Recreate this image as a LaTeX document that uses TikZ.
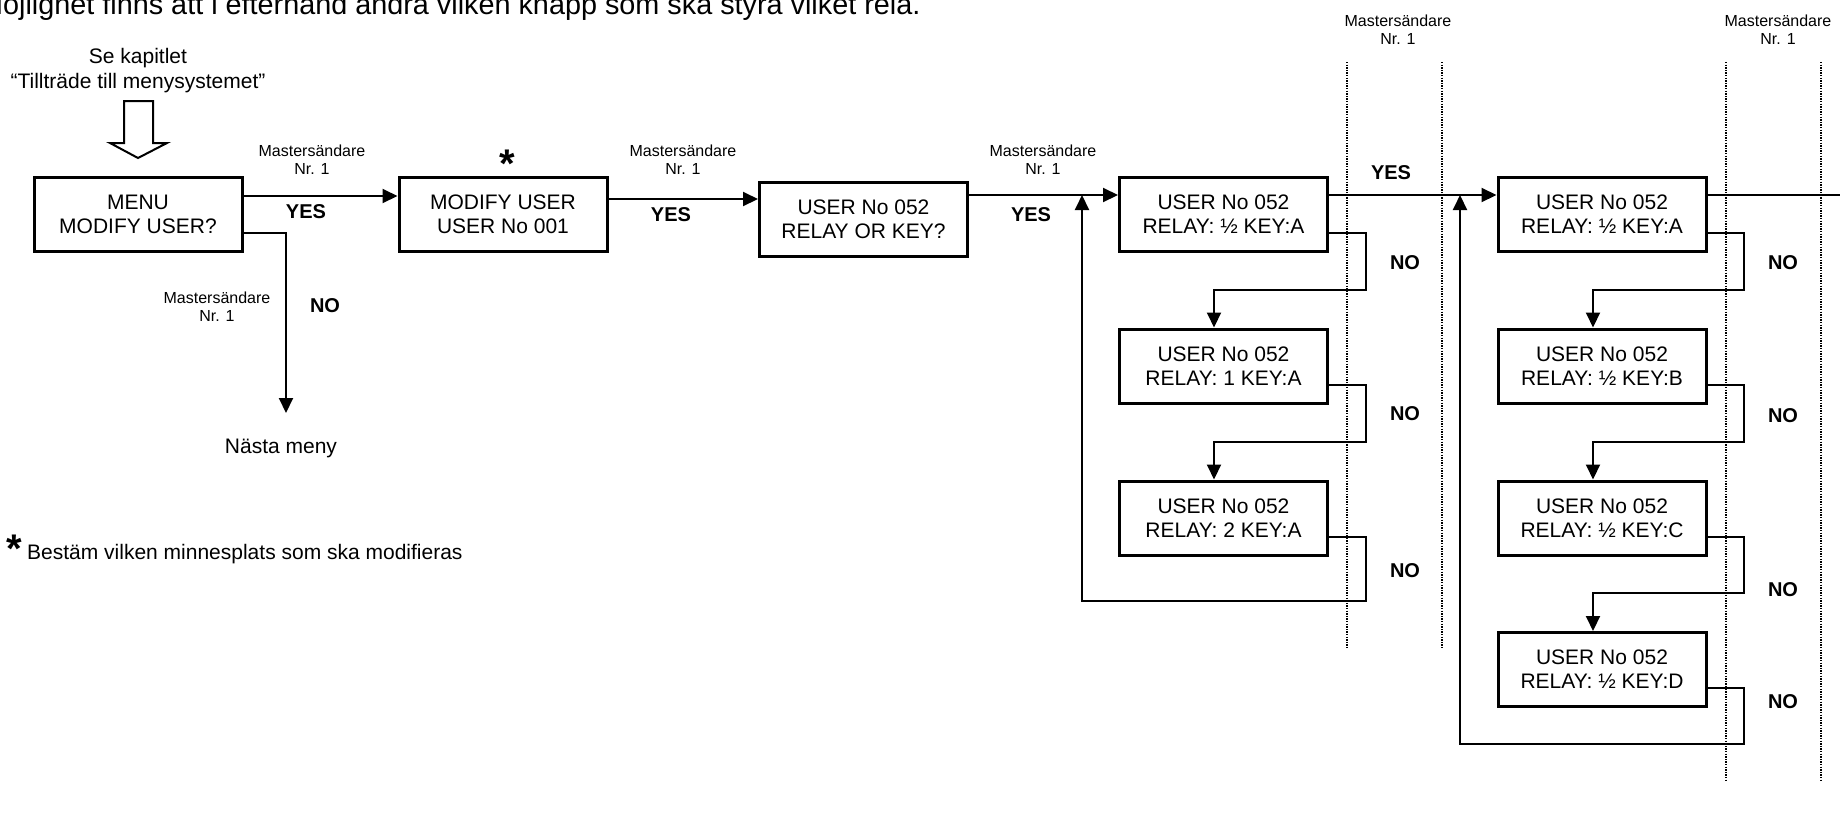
\documentclass[tikz,border=0pt]{standalone}
\usepackage{fontspec}
\setmainfont{Liberation Sans}
\usetikzlibrary{arrows.meta}
\begin{document}
\begin{tikzpicture}[x=1pt,y=-1pt,
  box/.style={draw,line width=3pt,minimum width=208pt,minimum height=74pt,inner sep=0pt,align=center,font=\fontsize{21}{24}\selectfont},
  conn/.style={line width=2pt},
  arr/.style={conn,-{Triangle[length=15pt,width=14pt]}},
  lbl/.style={inner sep=0pt,align=center,font=\fontsize{16}{18}\selectfont},
  ans/.style={inner sep=0pt,font=\bfseries\fontsize{20}{24}\selectfont},
  txt/.style={inner sep=0pt,align=center,font=\fontsize{21}{25}\selectfont},
  star/.style={inner sep=0pt,font=\bfseries\fontsize{40}{40}\selectfont},
  guide/.style={line width=1.3pt,dash pattern=on 1.3pt off 1.3pt}]
\useasboundingbox (0,0) rectangle (1840,815);

% top text (cut by page)
\node[anchor=base west,inner sep=0pt,font=\fontsize{28.8}{30}\selectfont] (toptext) at (-21,14) {Möjlighet finns att i efterhand ändra vilken knapp som ska styra vilket relä.};

% boxes
\node[box] (b1) at (138,214) {MENU\\MODIFY USER?};
\node[box] (b2) at (503,214.5) {MODIFY USER\\USER No 001};
\node[box] (b3) at (863.5,219) {USER No 052\\RELAY OR KEY?};
\node[box] (a1) at (1223.5,214.5) {USER No 052\\RELAY: ½ KEY:A};
\node[box] (a2) at (1223.5,366) {USER No 052\\RELAY: 1 KEY:A};
\node[box] (a3) at (1223.5,518) {USER No 052\\RELAY: 2 KEY:A};
\node[box] (c1) at (1602,214.5) {USER No 052\\RELAY: ½ KEY:A};
\node[box] (c2) at (1602,366) {USER No 052\\RELAY: ½ KEY:B};
\node[box] (c3) at (1602,518) {USER No 052\\RELAY: ½ KEY:C};
\node[box] (c4) at (1602,669.5) {USER No 052\\RELAY: ½ KEY:D};

% texts
\node[txt] (se) at (138,71) {Se kapitlet\\“Tillträde till menysystemet”};
\node[txt] (nasta) at (281,448) {Nästa meny};
\node[star,anchor=base] (st1) at (507,177) {*};
\node[star,anchor=base west] (st2) at (6,562) {*};
\node[anchor=base west,inner sep=0pt,font=\fontsize{21}{24}\selectfont] (fn) at (27,559) {Bestäm vilken minnesplats som ska modifieras};

% hollow entry arrow
\draw[line width=2pt,line join=miter] (124,101) -- (153,101) -- (153,143) -- (167,143) -- (138,158) -- (110,143) -- (124,143) -- cycle;

% guides
\draw[guide] (1347,62) -- (1347,648);
\draw[guide] (1442,62) -- (1442,648);
\draw[guide] (1726,62) -- (1726,780);
\draw[guide] (1821,62) -- (1821,780);

% coordinates
\coordinate (f1) at (0,196);
\coordinate (f2) at (0,199);
\coordinate (f3) at (0,195);
\coordinate (nb) at (286,233);
\coordinate (nend) at (286,413);
\coordinate (a1o) at (1366,233);
\coordinate (a2i) at (1214,290);
\coordinate (a2o) at (1366,385);
\coordinate (a3i) at (1214,442);
\coordinate (a3o) at (1366,537);
\coordinate (aret) at (1082,601);
\coordinate (c1o) at (1744,233);
\coordinate (c2i) at (1593,290);
\coordinate (c2o) at (1744,385);
\coordinate (c3i) at (1593,442);
\coordinate (c3o) at (1744,537);
\coordinate (c4i) at (1593,593);
\coordinate (c4o) at (1744,688);
\coordinate (cret) at (1460,744);
\coordinate (rend) at (1840,195);

% connectors
\draw[arr] (b1.east |- f1) -- (b2.west |- f1);
\draw[arr] (b2.east |- f2) -- (b3.west |- f2);
\draw[arr] (b3.east |- f3) -- (a1.west |- f3);
\draw[arr] (a1.east |- f3) -- (c1.west |- f3);
\draw[conn] (c1.east |- f3) -- (rend);
\draw[arr] (b1.east |- nb) -- (nb) -- (nend);

\draw[arr] (a1.east |- a1o) -- (a1o) |- (a2i) -- (a2i |- a2.north);
\draw[arr] (a2.east |- a2o) -- (a2o) |- (a3i) -- (a3i |- a3.north);
\draw[arr] (a3.east |- a3o) -- (a3o) |- (aret) -- (aret |- f3);

\draw[arr] (c1.east |- c1o) -- (c1o) |- (c2i) -- (c2i |- c2.north);
\draw[arr] (c2.east |- c2o) -- (c2o) |- (c3i) -- (c3i |- c3.north);
\draw[arr] (c3.east |- c3o) -- (c3o) |- (c4i) -- (c4i |- c4.north);
\draw[arr] (c4.east |- c4o) -- (c4o) |- (cret) -- (cret |- f3);

% labels
\node[lbl] (m1) at (312,160) {Mastersändare\\Nr. 1};
\node[lbl] (m2) at (683,160) {Mastersändare\\Nr. 1};
\node[lbl] (m3) at (1043,160) {Mastersändare\\Nr. 1};
\node[lbl] (m4) at (217,307) {Mastersändare\\Nr. 1};
\node[lbl] (m5) at (1398,30) {Mastersändare\\Nr. 1};
\node[lbl] (m6) at (1778,30) {Mastersändare\\Nr. 1};

\node[ans] (y1) at (306,212) {YES};
\node[ans] (y2) at (671,215) {YES};
\node[ans] (y3) at (1031,215) {YES};
\node[ans] (y4) at (1391,173) {YES};

\node[ans] (n0) at (325,306) {NO};
\node[ans] (n1) at (1405,263) {NO};
\node[ans] (n2) at (1405,414) {NO};
\node[ans] (n3) at (1405,571) {NO};
\node[ans] (n4) at (1783,263) {NO};
\node[ans] (n5) at (1783,416) {NO};
\node[ans] (n6) at (1783,590) {NO};
\node[ans] (n7) at (1783,702) {NO};
\end{tikzpicture}
\end{document}
